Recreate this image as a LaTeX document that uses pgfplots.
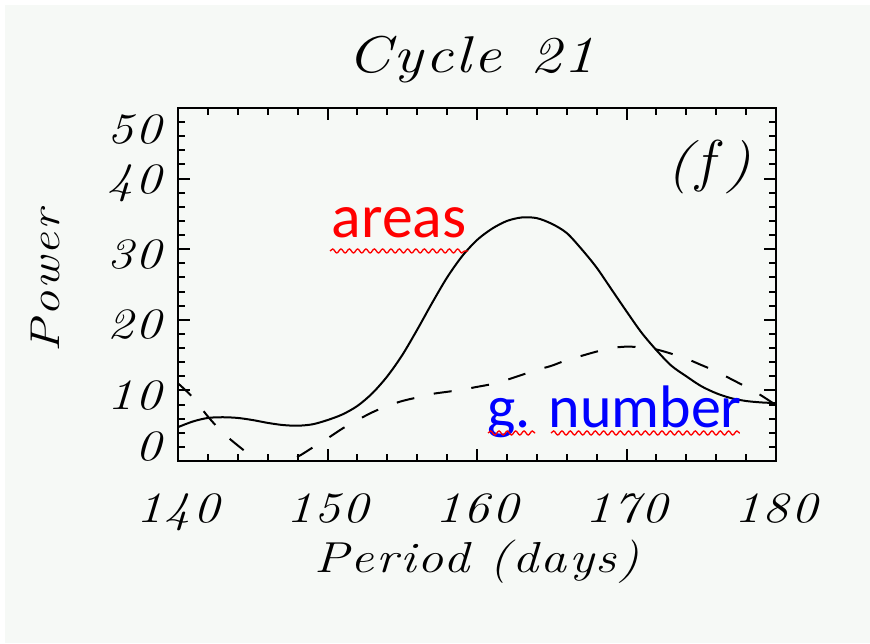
\documentclass[border=0pt]{standalone}
\usepackage{fontspec}
\usepackage{pgfplots}
\usepackage{pgfplotstable}
\pgfplotsset{compat=1.18}
\usetikzlibrary{decorations.pathmorphing}
\newfontfamily\idl[FakeStretch=1.2,LetterSpace=5]{Latin Modern Roman}
\newfontfamily\annot{Carlito}
\definecolor{bgcol}{RGB}{246,249,246}

\pgfplotstableread{
x y
140 4.8
141 5.6
142 6.1
143 6.2
144 6.1
145 5.8
146 5.4
147 5.1
148 5.0
149 5.2
150 5.8
151 6.6
152 7.8
153 9.6
154 12.0
155 15.0
156 18.6
157 22.4
158 26.0
159 29.0
160 31.3
161 32.9
162 34.0
163 34.5
164 34.4
165 33.6
166 32.3
167 30.0
168 27.4
169 24.3
170 21.2
171 18.2
172 15.7
173 13.5
174 12.0
175 10.6
176 9.6
177 8.9
178 8.5
179 8.3
180 8.2
}\areas

\pgfplotstableread{
x y
140 11.0
141 9.0
142 6.3
143 4.0
144 2.2
145 0.6
146 -0.3
147 -0.2
148 0.6
149 1.9
150 3.2
151 4.6
152 5.8
153 6.9
154 7.8
155 8.5
156 9.0
157 9.5
158 9.8
159 10.1
160 10.5
161 10.9
162 11.5
163 12.2
164 12.9
165 13.5
166 14.3
167 14.9
168 15.5
169 16.0
170 16.2
171 16.1
172 15.8
173 15.2
174 14.5
175 13.6
176 12.7
177 11.6
178 10.5
179 9.3
180 7.9
}\gnumber

\begin{document}
\begin{tikzpicture}
\fill[white] (0,0) rectangle (261pt,192.9pt);
\fill[bgcol] (1.5pt,0) rectangle (261pt,191.4pt);
\begin{axis}[
  at={(53.4pt,54.6pt)}, anchor=south west,
  width=179.4pt, height=105.9pt, scale only axis,
  xmin=140, xmax=180, ymin=0, ymax=50,
  xtick={140,150,160,170,180}, ytick={0,10,20,30,40,50},
  xticklabels={140,150,160,170,180},
  yticklabels={\raisebox{5.7pt}[\height][\depth]{0},10,20,30,40,\raisebox{-5.1pt}[\height][\depth]{50}},
  minor x tick num=4, minor y tick num=4,
  tick align=inside,
  major tick length=3.6pt, minor tick length=2pt,
  axis line style={line width=0.75pt},
  tick style={line width=0.6pt, black},
  /pgf/number format/assume math mode=true,
  xticklabel style={font=\idl\itshape\fontsize{13}{15}\selectfont, inner sep=0pt, anchor=north, yshift=-9.6pt},
  yticklabel style={font=\idl\itshape\fontsize{13}{15}\selectfont, inner sep=0pt, anchor=east, xshift=-4.8pt, yshift=-1.5pt},
  title={Cycle\hspace{0.55em}21},
  title style={at={(axis description cs:0.49,1.045)}, anchor=base, inner sep=0pt, font=\idl\itshape\fontsize{15.5}{18}\selectfont},
  xlabel={Period (days)},
  xlabel style={at={(axis description cs:0.5,-0.317)}, anchor=base, inner sep=0pt, font=\idl\itshape\fontsize{13}{15}\selectfont},
  ylabel={Power},
  ylabel style={at={(axis description cs:-0.222,0.51)}, anchor=center, inner sep=0pt, font=\idl\itshape\fontsize{12.5}{15}\selectfont},
]
\addplot[black, line width=0.6pt, smooth] table[x=x,y=y] {\areas};
\addplot[black, line width=0.6pt, smooth, dash pattern=on 5.4pt off 6pt] table[x=x,y=y] {\gnumber};
\node[font=\idl\itshape\fontsize{16}{18}\selectfont, anchor=center, inner sep=0pt] at (axis cs:175.5,41.6) {($f$)};
\node[font=\annot\fontsize{18.5}{20}\selectfont, text=red, anchor=base, inner sep=0pt] at (axis cs:154.8,31.7) {areas};
\node[font=\annot\fontsize{18}{20}\selectfont, text=blue, anchor=base, inner sep=0pt] at (axis cs:169.2,4.8) {g. number};
\draw[red, line width=0.4pt, decorate, decoration={snake, amplitude=0.6pt, segment length=2.5pt}] (axis cs:150.17,29.75) -- (axis cs:159.4,29.75);
\draw[red, line width=0.4pt, decorate, decoration={snake, amplitude=0.6pt, segment length=2.5pt}] (axis cs:160.74,3.97) -- (axis cs:163.88,3.97);
\draw[red, line width=0.4pt, decorate, decoration={snake, amplitude=0.6pt, segment length=2.5pt}] (axis cs:164.95,3.97) -- (axis cs:177.59,3.97);
\end{axis}
\end{tikzpicture}
\end{document}
